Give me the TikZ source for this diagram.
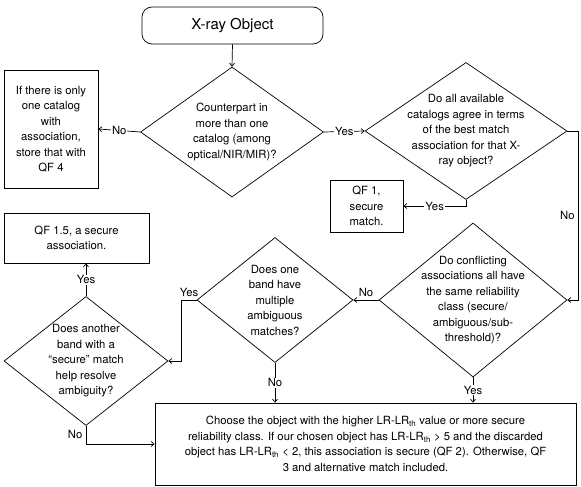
\documentclass[tikz,border=0pt]{standalone}
\usepackage{fontspec}
\setmainfont{TeX Gyre Heros}
\usetikzlibrary{shapes.geometric, arrows.meta}

\begin{document}
\begin{tikzpicture}[
  x=1pt, y=-1pt,
  font=\fontsize{11.3}{15.5}\selectfont,
  line width=0.7pt,
  start/.style={draw, rounded corners=10pt, minimum width=181pt, minimum height=37pt,
    font=\fontsize{15}{18}\selectfont},
  query/.style={draw, diamond, align=center, inner sep=-25pt},
  result/.style={draw, rectangle, align=center, inner sep=2pt},
  flow/.style={-{Straight Barb[length=3pt,width=5pt]}},
  answer/.style={fill=white, inner sep=1pt}
]
\useasboundingbox (0,0) rectangle (581,487);

% --- start and first question ---
\node[start] (xray) at (232.5,25.5) {X-ray Object};
\node[query, minimum width=183pt, minimum height=130pt] (multi) at (232,132)
  {Counterpart in\\ more than one\\ catalog (among\\ optical/NIR/MIR)?};
\node[result, minimum width=94pt, minimum height=118pt] (single) at (51,129)
  {If there is only\\ one catalog\\ with\\ association,\\ store that with\\ QF 4};

% --- agreement between catalogs ---
\node[query, minimum width=202pt, minimum height=137pt] (agree) at (466,131)
  {Do all available\\ catalogs agree in terms\\ of the best match\\ association for that X-\\ ray object?};
\node[result, minimum width=73pt, minimum height=52pt] (qfone) at (366.5,206)
  {QF 1,\\ secure\\ match.};

% --- conflicting associations ---
\node[query, minimum width=188pt, minimum height=154pt] (conflict) at (473,300)
  {Do conflicting\\ associations all have\\ the same reliability\\ class (secure/\\ ambiguous/sub-\\ threshold)?};
\node[query, minimum width=156pt, minimum height=125pt] (band) at (275,300)
  {Does one\\ band have\\ multiple\\ ambiguous\\ matches?};
\node[query, minimum width=164pt, minimum height=129pt] (resolve) at (86,361)
  {Does another\\ band with a\\ “secure” match\\ help resolve\\ ambiguity?};
\node[result, minimum width=145pt, minimum height=50pt] (qfhalf) at (76.5,238)
  {QF 1.5, a secure\\ association.};

% --- final choice ---
\node[result, minimum width=421pt, minimum height=82pt] (choose) at (365.5,444)
  {Choose the object with the higher LR-LR\textsubscript{th} value or more secure\\
   reliability class. If our chosen object has LR-LR\textsubscript{th} > 5 and the discarded\\
   object has LR-LR\textsubscript{th} < 2, this association is secure (QF 2). Otherwise, QF\\
   3 and alternative match included.};

% --- connectors ---
\coordinate (agreeturn) at ([xshift=11pt]agree.east);
\draw[flow] (xray.south) -- (multi.north);
\draw[flow] (multi.west) -- node[answer] {No} (single.east);
\draw[flow] (multi.east) -- node[answer] {Yes} (agree.west);
\draw[flow] (agree.south) |- node[answer, pos=0.75] {Yes} (qfone.east);
\draw[flow] (agree.east) -- (agreeturn) |- node[pos=0.25, left] {No} (conflict.east);
\draw[flow] (conflict.west) -- node[above] {No} (band.east);
\draw[flow] (band.west) -- node[above] {Yes} ++(-15,0) |- (resolve.east);
\draw[flow] (resolve.north) -- node[answer] {Yes} (resolve.north |- qfhalf.south);
\draw[flow] (resolve.south) |- node[pos=0.25, left] {No} (choose.west);
\draw[flow] (band.south) -- node[answer] {No} (band.south |- choose.north);
\draw[flow] (conflict.south) -- node[answer] {Yes} (conflict.south |- choose.north);

\end{tikzpicture}
\end{document}
